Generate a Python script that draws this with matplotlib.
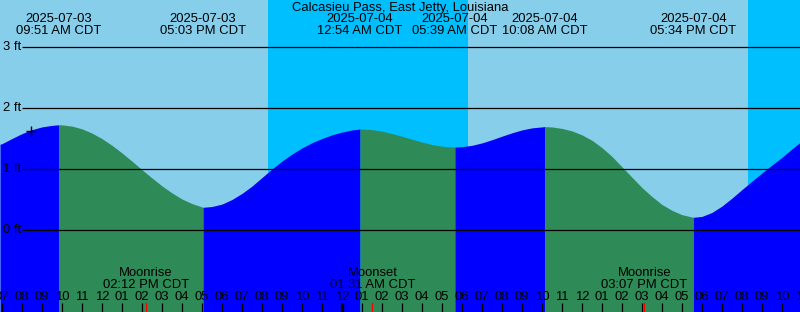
import matplotlib
matplotlib.use("Agg")
import matplotlib.pyplot as plt
import numpy as np

plt.rcParams['font.family'] = ['Liberation Sans', 'DejaVu Sans']

title = "Calcasieu Pass, East Jetty, Louisiana"

# hours since 2025-07-03 00:00 CDT, tide height in ft
tide_t = [6.9, 7, 7.5, 8, 8.5, 9, 9.5, 9.85,
          10, 10.5, 11, 11.5, 12, 12.5, 13, 13.5, 14, 14.5, 15, 15.5, 16, 16.5, 17, 17.05,
          17.5, 18, 18.5, 19, 19.5, 20, 20.5, 21, 21.5, 22, 22.5, 23, 23.5, 24, 24.5, 24.9,
          25, 25.5, 26, 26.5, 27, 27.5, 28, 28.5, 29, 29.3, 29.65,
          30, 30.5, 31, 31.5, 32, 32.5, 33, 33.5, 34, 34.133,
          34.5, 35, 35.5, 36, 36.5, 37, 37.5, 38, 38.5, 39, 39.5, 40, 40.5, 41, 41.5, 41.567,
          42, 42.5, 43, 43.5, 44, 44.5, 45, 45.5, 46, 46.5, 46.9]
tide_h = [1.41, 1.42, 1.505, 1.585, 1.65, 1.695, 1.72, 1.73,
          1.728, 1.708, 1.663, 1.593, 1.503, 1.393, 1.268, 1.133, 0.993, 0.858, 0.728, 0.613, 0.513, 0.438, 0.383, 0.377,
          0.39, 0.43, 0.505, 0.605, 0.725, 0.865, 1.005, 1.135, 1.25, 1.35, 1.435, 1.505, 1.565, 1.61, 1.645, 1.66,
          1.66, 1.65, 1.625, 1.587, 1.541, 1.493, 1.446, 1.406, 1.379, 1.369, 1.365,
          1.37, 1.393, 1.433, 1.485, 1.543, 1.598, 1.646, 1.679, 1.695, 1.70,
          1.694, 1.67, 1.629, 1.564, 1.475, 1.355, 1.21, 1.04, 0.87, 0.70, 0.553, 0.423, 0.327, 0.256, 0.218, 0.213,
          0.228, 0.293, 0.398, 0.528, 0.668, 0.805, 0.94, 1.07, 1.195, 1.335, 1.44]

# high / low tide events
ext_t = [9.85, 17.05, 24.9, 29.65, 34.133, 41.567]
ext_date = ["2025-07-03", "2025-07-03", "2025-07-04", "2025-07-04", "2025-07-04", "2025-07-04"]
ext_time = ["09:51 AM CDT", "05:03 PM CDT", "12:54 AM CDT", "05:39 AM CDT", "10:08 AM CDT", "05:34 PM CDT"]

# night intervals (sunset -> sunrise)
night_start = [20.3, 44.3]
night_end = [30.3, 47.0]

# moon events
moon_t = [14.2, 25.517, 39.117]
moon_name = ["Moonrise", "Moonset", "Moonrise"]
moon_time = ["02:12 PM CDT", "01:31 AM CDT", "03:07 PM CDT"]

# current time marker
now_t = 8.425
now_h = 1.63

grid_ft = [0, 1, 2, 3]
grid_lbl = ["0 ft", "1 ft", "2 ft", "3 ft"]

DAY = "#87CEEB"
NIGHT = "#00BFFF"
RISE = "#0000FF"
FALL = "#2E8B57"
FS = 9.4

W, H = 800, 312
fig = plt.figure(figsize=(W / 100, H / 100), dpi=100)
ax = fig.add_axes([0, 0, 1, 1])
x0, x1 = 6.9, 46.9
y0, y1 = -1.339, 3.775
ax.set_xlim(x0, x1)
ax.set_ylim(y0, y1)
ax.axis("off")
ax.add_patch(plt.Rectangle((x0, y0), x1 - x0, y1 - y0, color=DAY, zorder=0))
for a, b in zip(night_start, night_end):
    ax.axvspan(a, b, color=NIGHT, lw=0, zorder=0.5)

t = np.array(tide_t)
h = np.array(tide_h)
bounds = [x0] + ext_t + [x1]
for i in range(len(bounds) - 1):
    a, b = bounds[i], bounds[i + 1]
    m = (t >= a - 1e-9) & (t <= b + 1e-9)
    rising = h[m][-1] > h[m][0]
    ax.fill_between(t[m], y0, h[m], color=RISE if rising else FALL, lw=0, zorder=1)

px = 1 / 20.0  # hours per pixel
for g, lbl in zip(grid_ft, grid_lbl):
    ax.plot([x0 + 22 * px, x1], [g, g], color="black", lw=0.9, zorder=3, solid_capstyle="butt")
    ax.text(x0 + 3 * px, g, lbl, ha="left", va="center", fontsize=FS, zorder=4)

ax.plot([now_t], [now_h], marker="+", ms=7, mew=1.0, color="black", zorder=4)

def yf(ypx):
    return 1 - ypx / H

tr = ax.get_xaxis_transform()
ax.text(0.5, yf(7.5), title, transform=ax.transAxes, ha="center", va="center", fontsize=FS)
for et, d, tm in zip(ext_t, ext_date, ext_time):
    ax.text(et, yf(19.5), d, transform=tr, ha="center", va="center", fontsize=FS, zorder=4)
    ax.text(et, yf(31.5), tm, transform=tr, ha="center", va="center", fontsize=FS, zorder=4)

for mt, mn, mtm in zip(moon_t, moon_name, moon_time):
    ax.text(mt, yf(273.5), mn, transform=tr, ha="center", va="center", fontsize=FS, zorder=4)
    ax.text(mt, yf(285.5), mtm, transform=tr, ha="center", va="center", fontsize=FS, zorder=4)
    ax.plot([mt, mt], [0, yf(303)], transform=tr, color="red", lw=0.9, zorder=4)

for hr in range(7, 48):
    lab = "%02d" % (12 if hr % 12 == 0 else hr % 12)
    ax.text(hr, yf(297.5), lab, transform=tr, ha="center", va="center", fontsize=FS, zorder=4)
    lw = 2.4 if hr % 24 == 0 else 0.9
    ax.plot([hr, hr], [0, yf(303)], transform=tr, color="black", lw=lw, zorder=4,
            solid_capstyle="butt")

fig.savefig("out.png", dpi=100)
